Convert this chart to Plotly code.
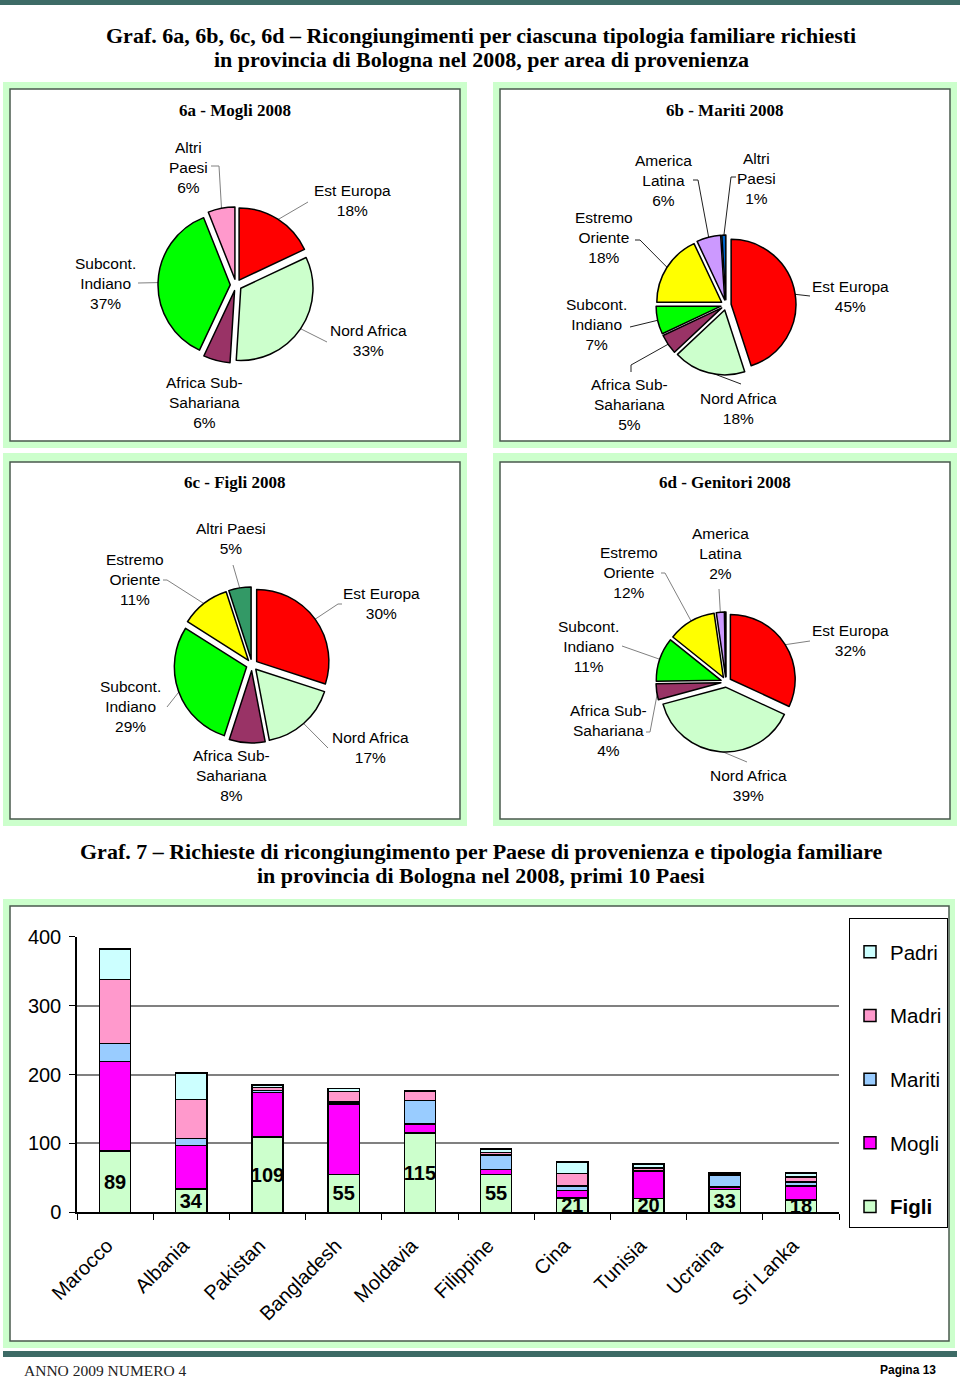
import math
import plotly.graph_objects as go

W, H = 960, 1380

# ------------------------------------------------------------------ DATA
regions_6a = ["Est Europa", "Nord Africa", "Africa Sub-Sahariana", "Subcont. Indiano", "Altri Paesi"]
values_6a = [18, 33, 6, 37, 6]

regions_6b = ["Est Europa", "Nord Africa", "Africa Sub-Sahariana", "Subcont. Indiano",
              "Estremo Oriente", "America Latina", "Altri Paesi"]
values_6b = [45, 18, 5, 7, 18, 6, 1]

regions_6c = ["Est Europa", "Nord Africa", "Africa Sub-Sahariana", "Subcont. Indiano",
              "Estremo Oriente", "Altri Paesi"]
values_6c = [30, 17, 8, 29, 11, 5]

regions_6d = ["Est Europa", "Nord Africa", "Africa Sub-Sahariana", "Subcont. Indiano",
              "Estremo Oriente", "America Latina", "Altri Paesi"]
values_6d = [32, 39, 4, 11, 12, 2, 0.3]

countries = ["Marocco", "Albania", "Pakistan", "Bangladesh", "Moldavia",
             "Filippine", "Cina", "Tunisia", "Ucraina", "Sri Lanka"]
figli = [89, 34, 109, 55, 115, 55, 21, 20, 33, 18]
mogli = [130, 63, 65, 102, 13, 7, 11, 39, 4, 20]
mariti = [26, 10, 3, 3, 34, 21, 6, 2, 17, 6]
madri = [93, 57, 4, 15, 14, 4, 18, 3, 2, 7]
padri = [44, 38, 4, 5, 1, 5, 17, 6, 2, 6]

y_ticks = [0, 100, 200, 300, 400]

# ------------------------------------------------------------------ STYLE
SANS = "Liberation Sans, Arial, sans-serif"
SERIF = "Liberation Serif, Times New Roman, serif"

region_colors = {
    "Est Europa": "#FF0000",
    "Nord Africa": "#CCFFCC",
    "Africa Sub-Sahariana": "#993366",
    "Subcont. Indiano": "#00FF00",
    "Estremo Oriente": "#FFFF00",
    "America Latina": "#CC99FF",
}
wrapped = {
    "Est Europa": "Est Europa",
    "Nord Africa": "Nord Africa",
    "Africa Sub-Sahariana": "Africa Sub-<br>Sahariana",
    "Subcont. Indiano": "Subcont.<br>Indiano",
    "Estremo Oriente": "Estremo<br>Oriente",
    "America Latina": "America<br>Latina",
    "Altri Paesi": "Altri<br>Paesi",
}

def X(px):
    return px / W

def Y(py):
    return 1 - py / H

# Layout of each pie panel: centre/radius in pixels, title, label placement
pies = [
    dict(regions=regions_6a, values=values_6a, cx=236, cy=285, R=78, pull=0.08,
         altri="#FF99CC", title="6a - Mogli 2008", tpos=(235, 110), lead="#808080",
         labels={
             "Est Europa": ((352, 201), [(308, 202)]),
             "Nord Africa": ((368, 340), [(327, 342)]),
             "Africa Sub-Sahariana": ((204, 402), None),
             "Subcont. Indiano": ((105, 283), [(138, 283)]),
             "Altri Paesi": ((188, 167), [(219, 166), (211, 166)]),
         }, oneline=[]),
    dict(regions=regions_6b, values=values_6b, cx=726, cy=305, R=70, pull=0.08,
         altri="#0066CC", title="6b - Mariti 2008", tpos=(725, 110), lead="#202020",
         labels={
             "Est Europa": ((850, 296), [(810, 296)]),
             "Nord Africa": ((738, 408), [(741, 384)]),
             "Africa Sub-Sahariana": ((629, 404), [(631, 365), (631, 372)]),
             "Subcont. Indiano": ((596, 325), [(630, 327)]),
             "Estremo Oriente": ((604, 238), [(640, 240), (635, 240)]),
             "America Latina": ((663, 180), [(698, 180), (693, 180)]),
             "Altri Paesi": ((756, 178), [(731, 177), (736, 177)]),
         }, oneline=[]),
    dict(regions=regions_6c, values=values_6c, cx=252, cy=665, R=78, pull=0.08,
         altri="#339966", title="6c - Figli 2008", tpos=(235, 483), lead="#808080",
         labels={
             "Est Europa": ((381, 603), [(338, 604), (342, 604)]),
             "Nord Africa": ((370, 747), [(328, 748)]),
             "Africa Sub-Sahariana": ((231, 775), None),
             "Subcont. Indiano": ((130, 706), [(167, 707)]),
             "Estremo Oriente": ((135, 579), [(167, 580), (163, 580)]),
             "Altri Paesi": ((231, 538), [(233, 565)]),
         }, oneline=["Altri Paesi"]),
    dict(regions=regions_6d, values=values_6d, cx=726, cy=682, R=70, pull=0.08,
         altri="#0066CC", title="6d - Genitori 2008", tpos=(725, 483), lead="#808080",
         labels={
             "Est Europa": ((850, 640), [(810, 641)]),
             "Nord Africa": ((748, 785), [(747, 762)]),
             "Africa Sub-Sahariana": ((608, 730), [(650, 732), (646, 732)]),
             "Subcont. Indiano": ((588, 646), [(622, 646)]),
             "Estremo Oriente": ((629, 572), [(665, 573), (661, 573)]),
             "America Latina": ((720, 553), [(719, 589)]),
         }, oneline=[]),
]

fig = go.Figure()
shapes = []
annotations = []

# ------------------------------------------------------------------ page decoration
def rect(x0, y0, x1, y1, fill, line=None, lw=0, layer="below"):
    d = dict(type="rect", xref="paper", yref="paper",
             x0=X(x0), x1=X(x1), y0=Y(y1), y1=Y(y0),
             fillcolor=fill, layer=layer,
             line=dict(width=lw, color=line if line else "rgba(0,0,0,0)"))
    shapes.append(d)

rect(0, 0, 960, 5, "#3D6B66")
rect(3, 1351, 957, 1357, "#3D6B66")

panels = [
    ((3, 82, 467, 448), (10, 89, 460, 441)),
    ((493, 82, 957, 448), (500, 89, 950, 441)),
    ((3, 453, 467, 826), (10, 462, 460, 819)),
    ((493, 453, 957, 826), (500, 462, 950, 819)),
    ((3, 899, 955, 1348), (10, 906, 949, 1341)),
]
for outer, inner in panels:
    rect(*outer, "#CCFFCC")
    rect(*inner, "white", line="#4A5A4E", lw=1.5)

# titles
def text(x, y, s, size, family=SANS, bold=False, xanchor="center", color="black"):
    annotations.append(dict(
        x=X(x), y=Y(y), xref="paper", yref="paper", text=s, showarrow=False,
        xanchor=xanchor, yanchor="middle", align="center",
        font=dict(family=family, size=size, color=color,
                  weight="bold" if bold else "normal")))

text(481, 35, "Graf. 6a, 6b, 6c, 6d – Ricongiungimenti per ciascuna tipologia familiare richiesti",
     22, SERIF, True)
text(481, 60, "in provincia di Bologna nel 2008, per area di provenienza", 22, SERIF, True)
text(481, 851, "Graf. 7 – Richieste di ricongiungimento per Paese di provenienza e tipologia familiare",
     22, SERIF, True)
text(481, 875, "in provincia di Bologna nel 2008, primi 10 Paesi", 22, SERIF, True)

text(22, 1370, "ANNO 2009 NUMERO 4", 15.5, SERIF, False, xanchor="left", color="#222222")
text(938, 1370, "Pagina 13", 12, "Liberation Sans Narrow, Arial Narrow, Liberation Sans",
     True, xanchor="right")

# ------------------------------------------------------------------ pies
for p in pies:
    regs, vals = p["regions"], p["values"]
    cols = [region_colors.get(r, p["altri"]) for r in regs]
    cx, cy, R, pull = p["cx"], p["cy"], p["R"], p["pull"]
    fig.add_trace(go.Pie(
        labels=regs, values=vals, sort=False, direction="clockwise", rotation=0,
        pull=[pull] * len(vals), textinfo="none", showlegend=False,
        marker=dict(colors=cols, line=dict(color="black", width=1.5)),
        domain=dict(x=[X(cx - R), X(cx + R)], y=[Y(cy + R), Y(cy - R)]),
        hovertemplate="%{label}: %{percent}<extra></extra>",
    ))
    text(p["tpos"][0], p["tpos"][1], p["title"], 17, SERIF, True)

    total = sum(vals)
    cum = 0.0
    for r, v in zip(regs, vals):
        mid = (cum + v / 2) / total * 2 * math.pi
        cum += v
        if r not in p["labels"]:
            continue
        (lx, ly), anchors = p["labels"][r]
        name = r if r in p["oneline"] else wrapped[r]
        pct = round(v / total * 100)
        text(lx, ly, f"{name}<br>{pct}%", 15.5)
        if anchors:
            d = R - 1
            sx = cx + d * math.sin(mid)
            sy = cy - d * math.cos(mid)
            path = f"M {X(sx)} {Y(sy)}"
            for ax, ay in anchors:
                path += f" L {X(ax)} {Y(ay)}"
            shapes.append(dict(type="path", xref="paper", yref="paper", path=path,
                               line=dict(color=p["lead"], width=1), layer="below"))

# ------------------------------------------------------------------ stacked bars
series = [
    ("<b>Figli</b>", figli, "#CCFFCC"),
    ("Mogli", mogli, "#FF00FF"),
    ("Mariti", mariti, "#99CCFF"),
    ("Madri", madri, "#FF99CC"),
    ("Padri", padri, "#CCFFFF"),
]
for i, (name, vals, col) in enumerate(series):
    kw = {}
    if i == 0:
        kw = dict(text=vals, texttemplate="<b>%{text}</b>", textposition="inside",
                  insidetextanchor="middle", constraintext="none",
                  textfont=dict(family=SANS, size=20, color="black"), textangle=0)
    fig.add_trace(go.Bar(
        x=countries, y=vals, name=name, legendgroup=f"g{i}",
        legendrank=len(series) - i,
        marker=dict(color=col, line=dict(color="black", width=1.5)),
        xaxis="x", yaxis="y", **kw))

fig.update_layout(
    width=W, height=H, autosize=False,
    margin=dict(l=0, r=0, t=0, b=0, pad=0),
    paper_bgcolor="white", plot_bgcolor="rgba(0,0,0,0)",
    barmode="stack", bargap=0.59,
    font=dict(family=SANS, color="black"),
    shapes=shapes, annotations=annotations,
    xaxis=dict(domain=[X(77), X(839)], type="category", automargin=False,
               tickangle=-45, tickfont=dict(size=20, family=SANS),
               ticks="outside", tickson="boundaries", ticklen=6, tickcolor="black",
               showline=True, linecolor="black", linewidth=1.5,
               showgrid=False, ticklabelstandoff=12, ticklabelshift=-8),
    yaxis=dict(domain=[Y(1212.3), Y(936.7)], range=[0, 400], automargin=False,
               tickvals=y_ticks, tickfont=dict(size=20, family=SANS),
               ticks="outside", ticklen=6, tickcolor="black",
               showline=True, linecolor="black", linewidth=1.5,
               showgrid=True, gridcolor="#808080", gridwidth=1.5,
               zeroline=False, ticklabelstandoff=4),
    legend=dict(x=X(849), y=Y(918), xanchor="left", yanchor="top",
                bordercolor="black", borderwidth=1, bgcolor="white",
                font=dict(size=20.5, family=SANS),
                title=dict(text=" ", font=dict(size=10)),
                traceorder="grouped", tracegroupgap=34,
                itemclick=False),
)

fig.write_html("out.html", config={"displayModeBar": False},
               post_script="document.body.style.margin='0';document.body.style.padding='0';")
